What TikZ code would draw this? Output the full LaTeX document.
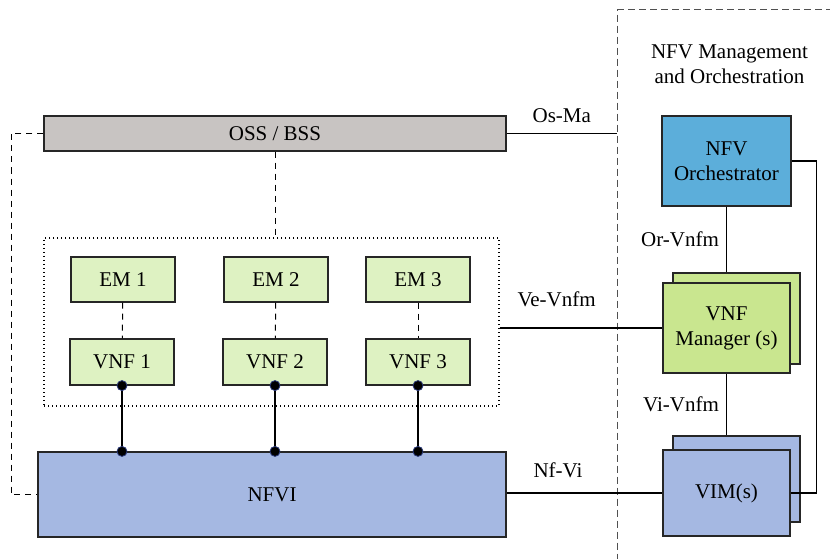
\documentclass[tikz,border=0pt]{standalone}
\usepackage{fontspec}
\setmainfont{Liberation Serif}
\tikzset{>=stealth}
\definecolor{ossgray}{RGB}{200,196,194}
\definecolor{emgreen}{RGB}{222,242,194}
\definecolor{mgrgreen}{RGB}{201,230,143}
\definecolor{orchblue}{RGB}{92,174,218}
\definecolor{infrablue}{RGB}{165,184,226}
\definecolor{portblue}{RGB}{40,55,120}
\definecolor{manogray}{RGB}{80,80,80}
\tikzset{
  box/.style={draw=black!85, line width=1.2pt, inner sep=0pt, align=center},
  elem/.style={box, fill=emgreen, minimum width=104pt, minimum height=45pt},
  port/.style={circle, fill=black, draw=portblue, line width=0.8pt, inner sep=0pt, minimum size=10pt},
  link/.style={line width=1.2pt},
  mgmt/.style={line width=1pt, dash pattern=on 6pt off 5pt},
  iface/.style={inner sep=0pt}
}

\begin{document}
\begin{tikzpicture}[x=1pt, y=-1pt, font=\fontsize{21}{25}\selectfont]
    \useasboundingbox (0,0) rectangle (830,559);
    \clip (0,0) rectangle (830,559);
    \node[box, fill=ossgray, minimum width=462pt, minimum height=35pt] (oss) at (275,133.5) {OSS / BSS};
    \node[draw, line width=1.2pt, dash pattern=on 1.2pt off 2.8pt, inner sep=0pt,
          minimum width=455pt, minimum height=168pt] (vnfs) at (271.5,322) {};
    \node[elem] (em1) at (123,279.5) {EM 1};
    \node[elem] (em2) at (276,279.5) {EM 2};
    \node[elem] (em3) at (418,279.5) {EM 3};
    \node[elem, minimum height=46pt] (vnf1) at (122,362) {VNF 1};
    \node[elem, minimum height=46pt] (vnf2) at (275,362) {VNF 2};
    \node[elem, minimum height=46pt] (vnf3) at (418,362) {VNF 3};
    \node[box, fill=infrablue, minimum width=468pt, minimum height=85pt] (nfvi) at (272,494.5) {NFVI};
    \node[draw=manogray, line width=1.2pt, dash pattern=on 7pt off 4pt, anchor=north west,
          minimum width=320pt, minimum height=620pt] (mano) at (617,9) {};
    \node[align=center] (manotitle) at (729.5,64) {NFV Management\\and Orchestration};
    \node[box, fill=orchblue, minimum width=129pt, minimum height=90pt] (orch) at (726.5,161) {NFV\\Orchestrator};
    \node[box, fill=mgrgreen, minimum width=127pt, minimum height=91pt] (vnfmb) at (736.5,318.5) {};
    \node[box, fill=mgrgreen, minimum width=127pt, minimum height=90pt] (vnfm) at (726.5,328) {VNF\\Manager (s)};
    \node[box, fill=infrablue, minimum width=127pt, minimum height=86pt] (vimb) at (736.5,479) {};
    \node[box, fill=infrablue, minimum width=127pt, minimum height=86pt] (vim) at (726.5,493) {VIM(s)};

    \draw[mgmt] (oss.west) -- ++(-32,0) |- (nfvi.west);
    \draw[mgmt] (oss.south) -- (oss.south |- vnfs.north);
    \draw[mgmt] (em1) -- (vnf1);
    \draw[mgmt] (em2) -- (vnf2);
    \draw[mgmt] (em3) -- (vnf3);
    \draw[link] (vnf1.south) node[port] {} -- (vnf1.south |- nfvi.north) node[port] {};
    \draw[link] (vnf2.south) node[port] {} -- (vnf2.south |- nfvi.north) node[port] {};
    \draw[link] (vnf3.south) node[port] {} -- (vnf3.south |- nfvi.north) node[port] {};
    \draw[link] (oss.east) -- node[iface, above=10pt] {Os-Ma} (oss.east -| mano.west);
    \draw[link] (vnfm.west -| vnfs.east) -- node[iface, pos=0.35, above=21pt] {Ve-Vnfm} (vnfm.west);
    \draw[link] (vim.west -| nfvi.east) -- node[iface, pos=0.33, above=15pt] {Nf-Vi} (vim.west);
    \draw[link] (orch) -- node[iface, left=7pt] {Or-Vnfm} (orch.south |- vnfmb.north);
    \draw[link] (vnfm) -- node[iface, left=7pt] {Vi-Vnfm} (vnfm.south |- vimb.north);
    \draw[link] (orch.east) -- ++(25,0) |- (vim.east);
\end{tikzpicture}
\end{document}
